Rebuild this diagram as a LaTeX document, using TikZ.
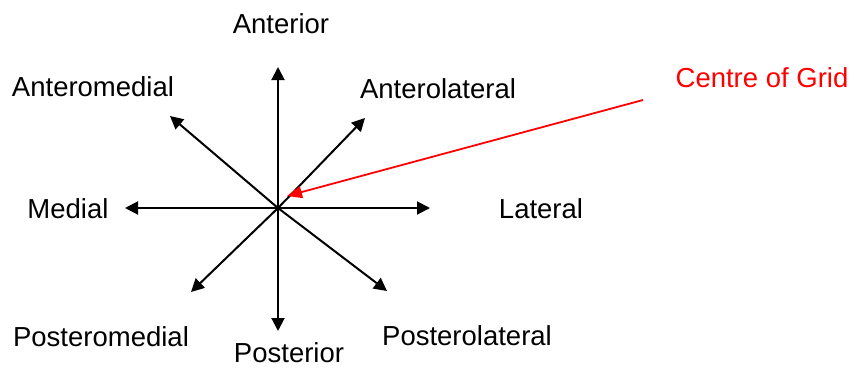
\documentclass[tikz,border=0pt]{standalone}
\usepackage{fontspec}
\setmainfont{Liberation Sans}
\usetikzlibrary{arrows.meta}
\begin{document}
\begin{tikzpicture}[x=1pt,y=-1pt,
  lbl/.style={font=\fontsize{27.5}{31}\selectfont, inner sep=0pt, anchor=center},
  axis/.style={line width=2pt, -{Triangle[length=13pt,width=13pt]}},
  redarr/.style={line width=1.8pt, red, -{Triangle[length=15pt,width=12pt]}}]
\useasboundingbox (0,0) rectangle (855,368);
\coordinate (c) at (278,208);
\coordinate (up) at (278,67);
\coordinate (dn) at (278,331);
\coordinate (lf) at (125,208);
\coordinate (rt) at (430,208);
\coordinate (ul) at (170,116);
\coordinate (ur) at (365,118);
\coordinate (dl) at (191,292);
\coordinate (dr) at (387,291);
\coordinate (rs) at (643,100);
\coordinate (re) at (287,196);
\foreach \t in {up,dn,lf,rt,ul,ur,dl,dr} \draw[axis] (c) -- (\t);
\draw[redarr] (rs) -- (re);
\node[lbl] (ant) at (281,24) {Anterior};
\node[lbl] (am) at (93,87) {Anteromedial};
\node[lbl] (al) at (438,89) {Anterolateral};
\node[lbl, text=red] (cg) at (762,78) {Centre of Grid};
\node[lbl] (med) at (68,209) {Medial};
\node[lbl] (lat) at (541,209) {Lateral};
\node[lbl] (pm) at (101,337) {Posteromedial};
\node[lbl] (pos) at (289,353) {Posterior};
\node[lbl] (pl) at (467,336) {Posterolateral};
\end{tikzpicture}
\end{document}
